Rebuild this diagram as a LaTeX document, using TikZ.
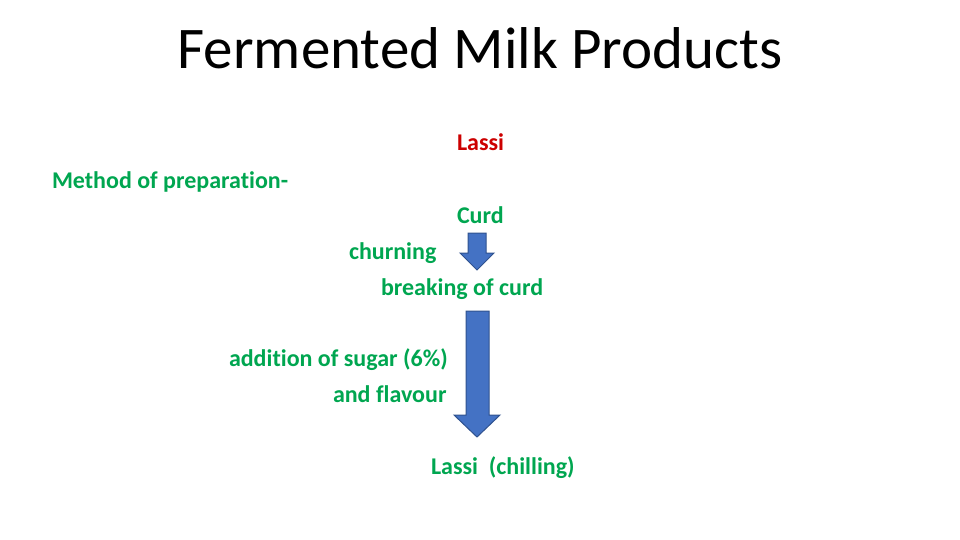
\documentclass[tikz,border=0pt]{standalone}
\usepackage{fontspec}
\setmainfont[Ligatures=NoCommon]{Carlito}
\definecolor{txtgreen}{RGB}{0,166,80}
\definecolor{txtred}{RGB}{204,0,0}
\definecolor{arrfill}{RGB}{68,114,196}
\definecolor{arrline}{RGB}{47,82,143}
\tikzset{
  lbl/.style={anchor=base west, inner sep=0pt, outer sep=0pt, font=\fontsize{24}{28}\selectfont\bfseries, text=txtgreen},
  ttl/.style={anchor=base, inner sep=0pt, font=\fontsize{59}{66}\selectfont, text=black},
  downarrow/.style={fill=arrfill, draw=arrline, line width=1pt, line join=miter}
}
\begin{document}
\begin{tikzpicture}[x=1pt,y=-1pt]
\useasboundingbox (0,0) rectangle (960,540);
\node[ttl] (title) at (480,69) {Fermented Milk Products};
\node[lbl, text=txtred] (lassi) at (457,151) {Lassi};
\node[lbl] (method) at (52,188) {Method of preparation-};
\node[lbl] (curd) at (457,223) {Curd};
\node[lbl] (churn) at (349,259) {churning};
\node[lbl] (break) at (381,295) {breaking of curd};
\node[lbl] (add) at (229,366) {addition of sugar (6\%)};
\node[lbl] (flav) at (333,402) {and flavour};
\node[lbl] (final) at (431,474) {Lassi\ \ (chilling)};
% small arrow
\draw[downarrow] (468,233) -- (486,233) -- (486,253) -- (494,253) -- (477,270) -- (460,253) -- (468,253) -- cycle;
% big arrow
\draw[downarrow] (466,311) -- (489,311) -- (489,415) -- (500,415) -- (477,437) -- (454,415) -- (466,415) -- cycle;
\end{tikzpicture}
\end{document}
